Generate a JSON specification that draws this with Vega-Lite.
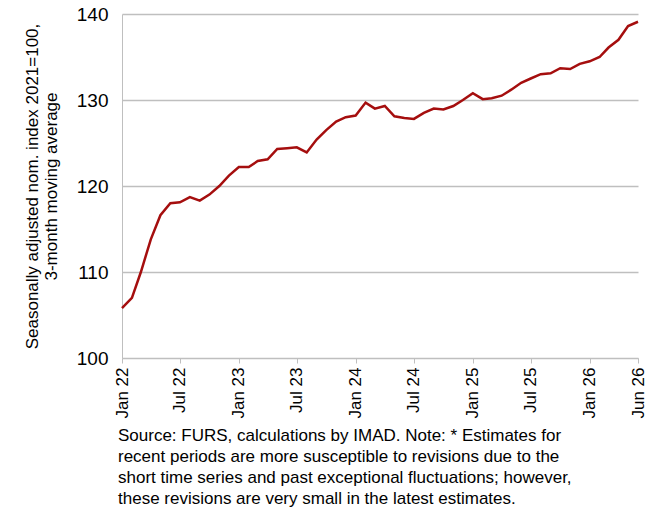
{
  "$schema": "https://vega.github.io/schema/vega-lite/v6.json",
  "autosize": "none",
  "width": 516,
  "height": 344,
  "padding": {"left": 122, "top": 14, "right": 13, "bottom": 174},
  "config": {"font": "Liberation Sans", "view": {"stroke": null}},
  "title": {
    "text": [
      "Source: FURS, calculations by IMAD. Note: * Estimates for",
      "recent periods are more susceptible to revisions due to the",
      "short time series and past exceptional fluctuations; however,",
      "these revisions are very small in the latest estimates."
    ],
    "orient": "bottom",
    "anchor": "start",
    "frame": "group",
    "dx": -4,
    "offset": 10,
    "fontSize": 17,
    "fontWeight": "normal",
    "lineHeight": 21,
    "color": "#000"
  },
  "data": {
    "values": [
      {"m": "2022-01-01", "v": 105.8}, {"m": "2022-02-01", "v": 107.0}, {"m": "2022-03-01", "v": 110.0},
      {"m": "2022-04-01", "v": 113.8}, {"m": "2022-05-01", "v": 116.6}, {"m": "2022-06-01", "v": 118.0},
      {"m": "2022-07-01", "v": 118.1}, {"m": "2022-08-01", "v": 118.7}, {"m": "2022-09-01", "v": 118.3},
      {"m": "2022-10-01", "v": 119.0}, {"m": "2022-11-01", "v": 120.0}, {"m": "2022-12-01", "v": 121.2},
      {"m": "2023-01-01", "v": 122.2}, {"m": "2023-02-01", "v": 122.2}, {"m": "2023-03-01", "v": 122.9},
      {"m": "2023-04-01", "v": 123.1}, {"m": "2023-05-01", "v": 124.3}, {"m": "2023-06-01", "v": 124.4},
      {"m": "2023-07-01", "v": 124.5}, {"m": "2023-08-01", "v": 123.9}, {"m": "2023-09-01", "v": 125.4},
      {"m": "2023-10-01", "v": 126.5}, {"m": "2023-11-01", "v": 127.5}, {"m": "2023-12-01", "v": 128.0},
      {"m": "2024-01-01", "v": 128.2}, {"m": "2024-02-01", "v": 129.7}, {"m": "2024-03-01", "v": 129.0},
      {"m": "2024-04-01", "v": 129.3}, {"m": "2024-05-01", "v": 128.1}, {"m": "2024-06-01", "v": 127.9},
      {"m": "2024-07-01", "v": 127.8}, {"m": "2024-08-01", "v": 128.5}, {"m": "2024-09-01", "v": 129.0},
      {"m": "2024-10-01", "v": 128.9}, {"m": "2024-11-01", "v": 129.3}, {"m": "2024-12-01", "v": 130.0},
      {"m": "2025-01-01", "v": 130.8}, {"m": "2025-02-01", "v": 130.1}, {"m": "2025-03-01", "v": 130.2},
      {"m": "2025-04-01", "v": 130.5}, {"m": "2025-05-01", "v": 131.2}, {"m": "2025-06-01", "v": 132.0},
      {"m": "2025-07-01", "v": 132.5}, {"m": "2025-08-01", "v": 133.0}, {"m": "2025-09-01", "v": 133.1},
      {"m": "2025-10-01", "v": 133.7}, {"m": "2025-11-01", "v": 133.6}, {"m": "2025-12-01", "v": 134.2},
      {"m": "2026-01-01", "v": 134.5}, {"m": "2026-02-01", "v": 135.0}, {"m": "2026-03-01", "v": 136.1},
      {"m": "2026-04-01", "v": 137.0}, {"m": "2026-05-01", "v": 138.6}, {"m": "2026-06-01", "v": 139.1}
    ]
  },
  "mark": {"type": "line", "color": "#a50e0e", "strokeWidth": 2.5},
  "encoding": {
    "x": {
      "field": "m",
      "type": "temporal",
      "scale": {"domain": [{"year": 2022, "month": 1, "date": 1}, {"year": 2026, "month": 6, "date": 1}]},
      "axis": {
        "title": null,
        "values": [
          {"year": 2022, "month": 1, "date": 1}, {"year": 2022, "month": 7, "date": 1},
          {"year": 2023, "month": 1, "date": 1}, {"year": 2023, "month": 7, "date": 1},
          {"year": 2024, "month": 1, "date": 1}, {"year": 2024, "month": 7, "date": 1},
          {"year": 2025, "month": 1, "date": 1}, {"year": 2025, "month": 7, "date": 1},
          {"year": 2026, "month": 1, "date": 1}, {"year": 2026, "month": 6, "date": 1}
        ],
        "format": "%b %y",
        "labelAngle": -90,
        "labelAlign": "right",
        "labelBaseline": "middle",
        "labelFontSize": 17,
        "labelColor": "#000",
        "labelPadding": 4,
        "grid": false,
        "domainColor": "#bfbfbf",
        "tickColor": "#bfbfbf",
        "tickSize": 5
      }
    },
    "y": {
      "field": "v",
      "type": "quantitative",
      "scale": {"domain": [100, 140], "nice": false},
      "axis": {
        "title": ["Seasonally adjusted nom. index 2021=100,", "3-month moving average"],
        "titleFontSize": 17,
        "titleFontWeight": "normal",
        "titleColor": "#000",
        "titlePadding": 16,
        "values": [100, 110, 120, 130, 140],
        "labelFontSize": 19,
        "labelColor": "#000",
        "labelPadding": 14,
        "ticks": false,
        "domainColor": "#bfbfbf",
        "gridColor": "#bfbfbf",
        "gridWidth": 1.3
      }
    }
  }
}
